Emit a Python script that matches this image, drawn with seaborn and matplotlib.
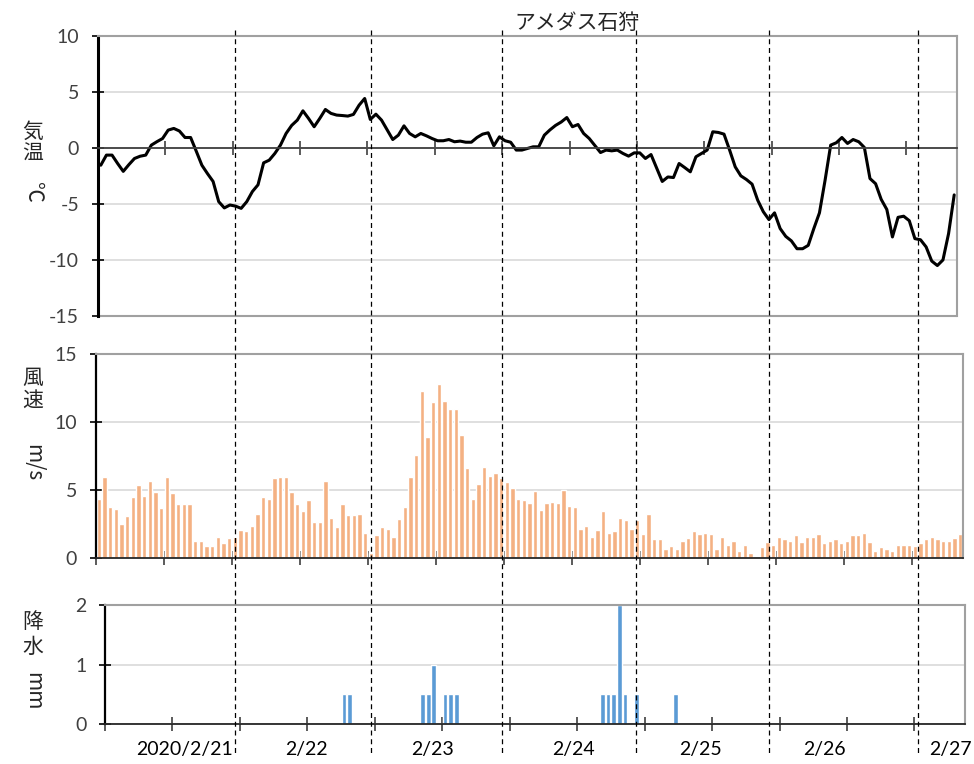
import numpy as np
import matplotlib.pyplot as plt
import seaborn as sns
from matplotlib.lines import Line2D
from matplotlib.transforms import blended_transform_factory

# --- dados horários (AMeDAS Ishikari, 2020/2/20 - 2/27) ---
temperatura = [
    -1.55, -0.65, -0.65, -1.4, -2.1, -1.5, -0.95, -0.75, -0.65, 0.24,
    0.55, 0.83, 1.58, 1.73, 1.5, 0.92, 0.92, -0.3, -1.55, -2.3,
    -3.0, -4.8, -5.36, -5.1, -5.2, -5.4, -4.8, -3.9, -3.3, -1.34,
    -1.1, -0.5, 0.24, 1.28, 2.0, 2.47, 3.3, 2.62, 1.88, 2.62,
    3.42, 3.07, 2.92, 2.88, 2.83, 2.98, 3.8, 4.4, 2.53, 3.0,
    2.47, 1.6, 0.74, 1.13, 1.96, 1.28, 0.98, 1.28, 1.07, 0.83,
    0.63, 0.63, 0.74, 0.54, 0.6, 0.5, 0.5, 0.92, 1.22, 1.34,
    0.18, 0.98, 0.63, 0.5, -0.2, -0.2, -0.05, 0.09, 0.09, 1.13,
    1.6, 2.0, 2.3, 2.7, 1.88, 2.08, 1.28, 0.83, 0.2, -0.42,
    -0.2, -0.27, -0.2, -0.5, -0.74, -0.45, -0.45, -0.95, -0.6, -1.8,
    -3.0, -2.6, -2.65, -1.4, -1.76, -2.14, -0.8, -0.5, -0.2, 1.43,
    1.37, 1.22, -0.2, -1.7, -2.5, -2.83, -3.24, -4.67, -5.7, -6.4,
    -5.8, -7.2, -7.9, -8.3, -9.0, -9.0, -8.7, -7.2, -5.8, -2.9,
    0.24, 0.45, 0.92, 0.39, 0.74, 0.54, 0.03, -2.74, -3.2, -4.6,
    -5.5, -7.95, -6.2, -6.1, -6.5, -8.1, -8.2, -8.84, -10.1, -10.5,
    -10.0, -7.65, -4.2,
]

vento = [
    4.36, 5.96, 3.77, 3.57, 2.46, 3.08, 4.48, 5.37, 4.58, 5.67,
    4.85, 3.65, 5.96, 4.75, 3.94, 3.94, 3.94, 1.26, 1.26, 0.86,
    0.86, 1.55, 1.06, 1.43, 1.55, 2.04, 1.95, 2.34, 3.25, 4.48,
    4.36, 5.86, 5.96, 5.96, 4.85, 3.94, 3.45, 4.26, 2.64, 2.64,
    5.67, 2.96, 2.24, 3.94, 3.15, 3.15, 3.25, 1.85, 0.32, 1.67,
    2.24, 2.14, 1.55, 2.86, 3.74, 5.96, 7.56, 12.27, 8.87, 11.48,
    12.78, 11.55, 10.96, 10.96, 9.04, 6.58, 4.33, 5.44, 6.67, 6.06,
    6.23, 5.86, 5.59, 5.15, 4.33, 4.24, 4.04, 4.93, 3.55, 4.04,
    4.14, 4.04, 5.02, 3.84, 3.74, 2.14, 2.34, 1.55, 2.04, 3.45,
    1.85, 1.95, 2.96, 2.76, 2.14, 2.76, 1.75, 3.25, 1.35, 1.35,
    0.67, 0.86, 0.67, 1.26, 1.45, 1.95, 1.75, 1.85, 1.75, 0.67,
    1.55, 0.96, 1.26, 0.47, 0.96, 0.37, 0.0, 0.76, 1.16, 0.96,
    1.55, 1.35, 1.26, 1.65, 1.16, 1.55, 1.55, 1.75, 1.06, 1.26,
    1.35, 1.06, 1.26, 1.65, 1.65, 1.85, 1.16, 0.47, 0.76, 0.67,
    0.47, 0.96, 0.96, 0.96, 0.86, 1.06, 1.35, 1.55, 1.35, 1.26,
    1.26, 1.45, 1.75,
]

horas_chuva = [42, 43, 56, 57, 58, 60, 61, 62, 88, 89, 90, 91, 92, 94, 101]
chuva_mm = [0.5, 0.5, 0.5, 0.5, 1.0, 0.5, 0.5, 0.5, 0.5, 0.5, 0.5, 2.0, 0.5, 0.5, 0.5]

rotulos_data = ["2020/2/21", "2/22", "2/23", "2/24", "2/25", "2/26", "2/27"]
pos_rotulos = [13.6, 35.4, 57.7, 82.9, 105.4, 127.5, 149.9]
marcas_dia = [23.9, 48.2, 71.5, 95.3, 119.0, 145.5]

horas = np.arange(len(temperatura))
n = len(horas)

# série de chuva completa (zeros nas horas sem precipitação)
chuva = np.zeros(n)
chuva[horas_chuva] = chuva_mm

sns.set_style("white")
plt.rcParams['font.family'] = ['Lato', 'Noto Sans CJK JP']
plt.rcParams['axes.unicode_minus'] = False

fig = plt.figure(figsize=(9.74, 7.64), dpi=100)
W, H = 974, 764

def eixo(esq, topo, dir, base):
    return fig.add_axes([esq / W, 1 - base / H, (dir - esq) / W, (base - topo) / H])

ax1 = eixo(98, 35.7, 957, 316)
ax2 = eixo(96, 354.3, 963, 557.7)
ax3 = eixo(105, 605, 965, 724)

cinza_borda = '#a0a0a0'
cinza_grade = '#d9d9d9'
cor_texto = '#404040'

# temperatura
sns.lineplot(x=horas, y=temperatura, ax=ax1, color='black', lw=2.2)
ax1.set_ylim(-15, 10)
ax1.set_yticks([-15, -10, -5, 0, 5, 10])
ax1.axhline(-15, color=cinza_borda, lw=1.5, zorder=1, clip_on=False)

# vento
sns.barplot(x=horas, y=vento, ax=ax2, color='#f4b183', saturation=1,
            width=0.75, native_scale=True, errorbar=None)
ax2.set_ylim(0, 15)
ax2.set_yticks([0, 5, 10, 15])

# chuva
sns.barplot(x=horas, y=chuva, ax=ax3, color='#5b9bd5', saturation=1,
            width=0.85, native_scale=True, errorbar=None)
ax3.set_ylim(0, 2)
ax3.set_yticks([0, 1, 2])

ticks_x = np.arange(-0.5, n, 12)
for ax in (ax1, ax2, ax3):
    ax.set_xlim(-0.5, n - 0.5)
    ax.set_xlabel('')
    ax.set_ylabel('')
    ax.set_xticks(ticks_x)
    ax.tick_params(axis='x', which='major', direction='inout', length=10,
                   width=1.2, color=cor_texto, bottom=True, labelbottom=False)
    ax.tick_params(axis='y', direction='inout', length=9, width=1.2, left=True,
                   color='black', labelsize=14, labelcolor=cor_texto, pad=9)
    ax.grid(axis='y', color=cinza_grade, lw=1.2)
    ax.grid(axis='x', visible=False)
    ax.set_axisbelow(True)
    for s in ('top', 'right'):
        ax.spines[s].set_color(cinza_borda)
        ax.spines[s].set_linewidth(1.5)
    ax.spines['left'].set_color('black')
    ax.spines['left'].set_linewidth(1.6)
    ax.spines['bottom'].set_color('#262626')
    ax.spines['bottom'].set_linewidth(1.3)

ax1.spines['left'].set_linewidth(2.2)
ax1.spines['bottom'].set_position(('data', 0))
ax1.spines['bottom'].set_color(cor_texto)

# rótulos das datas
ax3.set_xticks(pos_rotulos, rotulos_data, minor=True)
ax3.tick_params(axis='x', which='minor', length=0, pad=12, labelsize=14,
                labelcolor='black', bottom=True, labelbottom=True)

# linhas tracejadas que atravessam os três painéis
trans = blended_transform_factory(ax1.transData, fig.transFigure)
for xv in marcas_dia:
    fig.add_artist(Line2D([xv, xv], [1 - 30 / H, 1 - 755 / H], transform=trans,
                          color='black', lw=0.9, ls=(0, (4, 3))))

# títulos dos eixos (texto vertical)
fj = 'Noto Sans CJK JP'
def vert(txt, y, rot=0):
    fig.text(33 / W, 1 - y / H, txt, ha='center', va='center', fontsize=15,
             family=fj, rotation=rot)

vert('気', 132); vert('温', 154); vert('℃', 192, -90)
vert('風', 378); vert('速', 401); vert('m/s', 463, -90)
vert('降', 622); vert('水', 647); vert('mm', 691, -90)

fig.text(577 / W, 1 - 23 / H, 'アメダス石狩', ha='center', va='center',
         fontsize=15, family=fj)

fig.savefig('out.png', dpi=100)
